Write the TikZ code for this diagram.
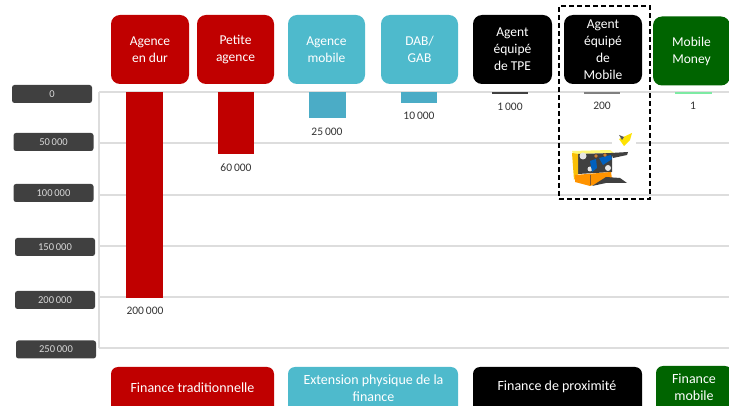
\documentclass[tikz,border=0pt]{standalone}
\usepackage{fontspec}
\setmainfont{Carlito}
\definecolor{cred}{HTML}{C00000}
\definecolor{cteal}{HTML}{4EBACC}
\definecolor{cbar}{HTML}{4BACC6}
\definecolor{cgreen}{HTML}{006400}
\definecolor{cdark}{HTML}{404040}
\definecolor{cgrid}{HTML}{DDDDDD}
\definecolor{ctext}{HTML}{333333}
\tikzset{
 head/.style={rounded corners=9pt,inner sep=0pt,align=center,text=white,font=\fontsize{13.5}{17}\selectfont,minimum height=69pt},
 foot/.style={rounded corners=7pt,inner sep=0pt,minimum height=46pt},
 foottext/.style={text=white,align=center,inner sep=0pt,font=\fontsize{14}{17}\selectfont},
 axlabel/.style={fill=cdark,rounded corners=2.5pt,text=white!85!black,inner sep=0pt,minimum width=80pt,minimum height=18pt,font=\fontsize{10.5}{12}\selectfont},
 gridline/.style={cgrid,line width=1.2pt},
 barval/.style={text=ctext,inner sep=0pt,font=\fontsize{11.5}{13}\selectfont},
 barshape/.style={draw=none,inner sep=0pt,minimum width=36.5pt,anchor=north}
}
\begin{document}
\begin{tikzpicture}[x=1pt,y=-1pt]
\useasboundingbox (0,0) rectangle (729,406);
\clip (0,0) rectangle (729,406);
% grid
\coordinate (g0l) at (99,92); \coordinate (g0r) at (729,92);
\coordinate (g1l) at (99,143); \coordinate (g1r) at (729,143);
\coordinate (g2l) at (99,195); \coordinate (g2r) at (729,195);
\coordinate (g3l) at (99,246); \coordinate (g3r) at (729,246);
\coordinate (g4l) at (99,297); \coordinate (g4r) at (729,297);
\coordinate (g5l) at (99,348); \coordinate (g5r) at (729,348);
\foreach \i in {0,...,5}{\draw[gridline] (g\i l) -- (g\i r);}
\draw[gridline] (g0l) -- (g5l);
% bars
\node[barshape,fill=cred,minimum height=206pt] (b1) at (144.5,92) {};
\node[barshape,fill=cred,minimum height=62pt] (b2) at (236,92) {};
\node[barshape,fill=cbar,minimum height=26pt] (b3) at (327.5,92) {};
\node[barshape,fill=cbar,minimum height=11pt] (b4) at (419,92) {};
\node[barshape,fill=cdark,minimum height=2pt] (b5) at (510,92) {};
\node[barshape,fill=gray,minimum height=2pt] (b6) at (602,92) {};
\node[barshape,fill=green!50!cteal!60,minimum height=2pt] (b7) at (693.5,92) {};
% values
\node[barval] (v1) at (145,311) {200\,000};
\node[barval] (v2) at (236,168) {60\,000};
\node[barval] (v3) at (327,132) {25\,000};
\node[barval] (v4) at (419,116) {10\,000};
\node[barval] (v5) at (510,107) {1\,000};
\node[barval] (v6) at (602,106) {200};
\node[barval] (v7) at (693,106) {1};
% axis labels
\node[axlabel] (a0) at (52,94) {0};
\node[axlabel] (a1) at (53.5,142) {50\,000};
\node[axlabel] (a2) at (53.5,193) {100\,000};
\node[axlabel] (a3) at (55,247) {150\,000};
\node[axlabel] (a4) at (55,300) {200\,000};
\node[axlabel] (a5) at (56,349.5) {250\,000};
% headers
\node[head,fill=cred,minimum width=78pt] (h1) at (150,49.5) {Agence\\en dur};
\node[head,fill=cred,minimum width=77pt] (h2) at (235.5,49.5) {Petite\\agence};
\node[head,fill=cteal,minimum width=77pt] (h3) at (326.5,49.5) {Agence\\mobile};
\node[head,fill=cteal,minimum width=77pt] (h4) at (419.5,49.5) {DAB/\\GAB};
\node[head,fill=black,minimum width=79pt] (h5) at (512.5,49.5) {Agent\\équipé\\de TPE};
\node[head,fill=black,minimum width=78pt] (h6) at (603,49.5) {Agent\\équipé\\de\\Mobile};
\node[head,fill=cgreen,minimum width=77pt] (h7) at (691.5,51) {Mobile\\Money};
% footers
\node[foot,fill=cred,minimum width=163pt] (f1) at (192.5,390) {};
\node[foottext] (f1t) at (192.5,388) {Finance traditionnelle};
\node[foot,fill=cteal,minimum width=170pt] (f2) at (373,390) {};
\node[foottext] (f2t) at (373.5,388) {Extension physique de la\\finance};
\node[foot,fill=black,minimum width=169pt] (f3) at (557.5,390) {};
\node[foottext] (f3t) at (557,387) {Finance de proximité};
\node[foot,fill=cgreen,minimum width=76pt] (f4) at (694,389) {};
\node[foottext] (f4t) at (694,387) {Finance\\mobile};
% dashed frame
\node[draw=black,dash pattern=on 5pt off 3pt,line width=1.3pt,minimum width=91pt,minimum height=193pt,inner sep=0pt] (frame) at (604.5,102.5) {};
% illustration: kiosk with agent
\fill[white] (612,131) rectangle (636,146);
\fill[yellow!85!orange] (619,139) -- (632,133) -- (630,140) -- (624,146) -- cycle;
\fill[black!65] (619,135) -- (624,137) -- (622,140) -- cycle;
\fill[yellow!55!white] (572,151) -- (610,150) -- (614,153) -- (573,154) -- cycle;
\fill[black!75] (578,154) -- (612,153) -- (612,172) -- (578,174) -- cycle;
\fill[white!80!gray] (583,156) circle (3.5);
\fill[white!80!gray] (608,168) circle (3);
\fill[white!80!gray] (590,169) circle (2.5);
\fill[orange!45!yellow!90!brown] (572,153) -- (578,154) -- (578,174) -- (574,180) -- cycle;
\fill[orange!85!yellow] (575,175) -- (611,172) -- (612,179) -- (590,186) -- (575,182) -- cycle;
\draw[brown!70!black,line width=.5pt] (590,175) -- (590,185);
\fill[black!75] (606,177) -- (620,178) -- (627,183) -- (606,183) -- (592,186) -- cycle;
\fill[blue!50!cyan!75!black] (590,161) -- (596,159) -- (597,168) -- (592,172) -- cycle;
\fill[blue!50!cyan!75!black] (599,158) -- (611,155) -- (612,159) -- (603,165) -- cycle;
\fill[black!75] (611,153) -- (628,152) -- (627,155) -- (613,158) -- cycle;
\fill[brown!70!orange] (596,156) circle (1.8);
\fill[brown!70!orange] (605,155) circle (1.8);
\end{tikzpicture}
\end{document}
